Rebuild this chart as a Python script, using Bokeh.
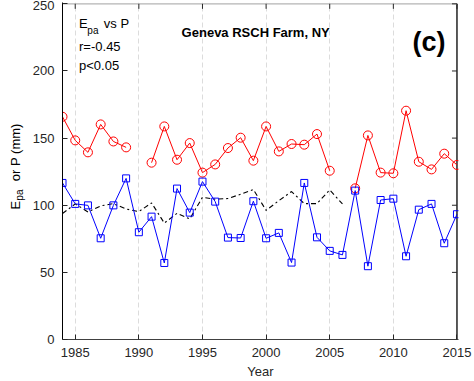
import math
from bokeh.plotting import figure
from bokeh.layouts import row
from bokeh.models import ColumnDataSource, Label, Range1d, FixedTicker
from bokeh.core.properties import value
from bokeh.embed import file_html
from bokeh.resources import INLINE

nan = float("nan")

# Annual values, 1984-2015 (mm)
years = list(range(1984, 2016))
p_mm = [165.9, 148.3, 139.4, 160.2, 147.5, 143.1, nan, 131.7, 158.7, 133.9,
        146.3, 124.3, 130.4, 142.6, 150.3, 133.2, 158.7, 140.1, 145.6, 145.1,
        153.0, 125.7, nan, 112.6, 152.0, 124.3, 123.8, 170.4, 132.4, 126.7,
        138.4, 130.0]
epa_mm = [116.6, 101.0, 99.9, 75.4, 99.9, 120.0, 79.9, 91.5, 57.0, 112.4,
          94.5, 117.6, 102.7, 75.9, 75.6, 103.0, 75.4, 79.4, 57.3, 116.6,
          76.1, 66.0, 63.0, 110.9, 54.6, 103.9, 104.9, 62.0, 96.7, 101.0,
          71.7, 93.3]
ep_mm = [93.8, 101.0, 95.0, 99.5, 101.2, 97.2, 95.3, 101.7, 86.7, 94.0,
         89.8, 105.9, 104.5, 105.0, 108.2, 111.7, 96.2, 103.4, 110.2, 101.2,
         101.2, 111.4, 101.0] + [nan] * 9

x_ticks = [1985, 1990, 1995, 2000, 2005, 2010, 2015]
y_ticks = [0, 50, 100, 150, 200, 250]

src = ColumnDataSource(dict(year=years, p=p_mm, epa=epa_mm, ep=ep_mm))

FONT = "Liberation Sans"
INK = "#262626"
LABEL_W = 28      # strip holding the rotated y-axis title
H = 381
X0, X1 = years[0], x_ticks[-1]
Y0, Y1 = y_ticks[0], y_ticks[-1]

# ranges padded by about a pixel so the closing box lines sit inside the frame
p = figure(width=474 - LABEL_W, height=H, output_backend="svg", toolbar_location=None,
           x_range=Range1d(X0, X1 + 0.12), y_range=Range1d(Y0, Y1 + 1.0),
           min_border_left=62 - LABEL_W, min_border_right=16, min_border_top=2,
           min_border_bottom=42, outline_line_color=None)
p.background_fill_color = "white"
p.border_fill_color = "white"

# vertical dashed grid only
p.xgrid.ticker = FixedTicker(ticks=x_ticks[:-1])
p.xgrid.grid_line_color = "#dcdcdc"
p.xgrid.grid_line_dash = "5 3"
p.ygrid.grid_line_color = None

for ax, ticks in ((p.xaxis[0], x_ticks), (p.yaxis[0], y_ticks)):
    ax.ticker = FixedTicker(ticks=ticks)
    ax.major_tick_in = 5
    ax.major_tick_out = 0
    ax.minor_tick_line_color = None
    ax.major_label_text_font = FONT
    ax.major_label_text_font_size = "13px"
    ax.major_label_text_color = INK
    ax.major_tick_line_color = INK
p.xaxis.axis_line_color = "#404040"
p.yaxis.axis_line_color = "#000000"
p.xaxis.major_label_standoff = 8
p.yaxis.major_label_standoff = 8
p.xaxis.axis_label = "Year"
p.xaxis.axis_label_text_font = FONT
p.xaxis.axis_label_text_font_size = "13px"
p.xaxis.axis_label_text_font_style = "normal"
p.xaxis.axis_label_text_color = INK
p.xaxis.axis_label_standoff = 4

# closing box: right edge (black) and top edge (grey), with inward ticks
p.line([X1, X1], [Y0, Y1], color="black", line_width=1.3)
p.line([X0, X1], [Y1, Y1], color="#b4b4b4", line_width=1.3)
p.ray(x=[X1] * len(y_ticks), y=y_ticks, length=5, length_units="screen",
      angle=math.pi, color=INK, line_width=1)
p.ray(x=x_ticks, y=[Y1] * len(x_ticks), length=5, length_units="screen",
      angle=-math.pi / 2, color=INK, line_width=1)

# series
p.line("year", "ep", source=src, color="black", line_width=1.1, line_dash="5 3 2 3")
p.line("year", "p", source=src, color="#ff0000", line_width=1)
p.scatter("year", "p", source=src, marker="circle", size=9, fill_color=None,
          line_color="#ff0000", line_width=1)
p.line("year", "epa", source=src, color="#0000ff", line_width=1)
p.scatter("year", "epa", source=src, marker="square", size=7, fill_color=None,
          line_color="#0000ff", line_width=1)


def lab(x, y, text, size="13px", style="normal", align="left"):
    p.add_layout(Label(x=x, y=y, text=text, text_font=FONT, text_font_size=size,
                       text_font_style=style, text_color="black", text_align=align,
                       text_baseline="alphabetic"))


# statistics box
lab(1985.3, 235.0, "E")
lab(1985.95, 230.5, "pa", size="10px")
lab(1987.25, 235.0, "vs P")
lab(1985.3, 218.5, "r=-0.45")
lab(1985.3, 204.0, "p<0.05")

# site name and panel tag
lab(1999.18, 228.8, "Geneva RSCH Farm, NY", style="bold", align="center")
lab(2012.8, 221.7, "(c)", size="27px", style="bold", align="center")

# rotated y-axis title with subscript, in its own narrow strip (pixel coordinates)
ylab = figure(width=LABEL_W, height=H, output_backend="svg", toolbar_location=None,
              x_range=Range1d(0, LABEL_W), y_range=Range1d(0, H),
              min_border=0, outline_line_color=None)
ylab.axis.visible = False
ylab.grid.visible = False
ttl = ColumnDataSource(dict(x=[15, 19, 15], y=[147, 157, 179],
                            t=["E", "pa", "or P (mm)"],
                            s=["13px", "10px", "13px"]))
ylab.text("x", "y", text="t", source=ttl, angle=math.pi / 2,
          text_font=value(FONT), text_font_size="s", text_color="black",
          text_align="left", text_baseline="alphabetic")

open("out.html", "w").write(file_html(row(ylab, p), INLINE))
